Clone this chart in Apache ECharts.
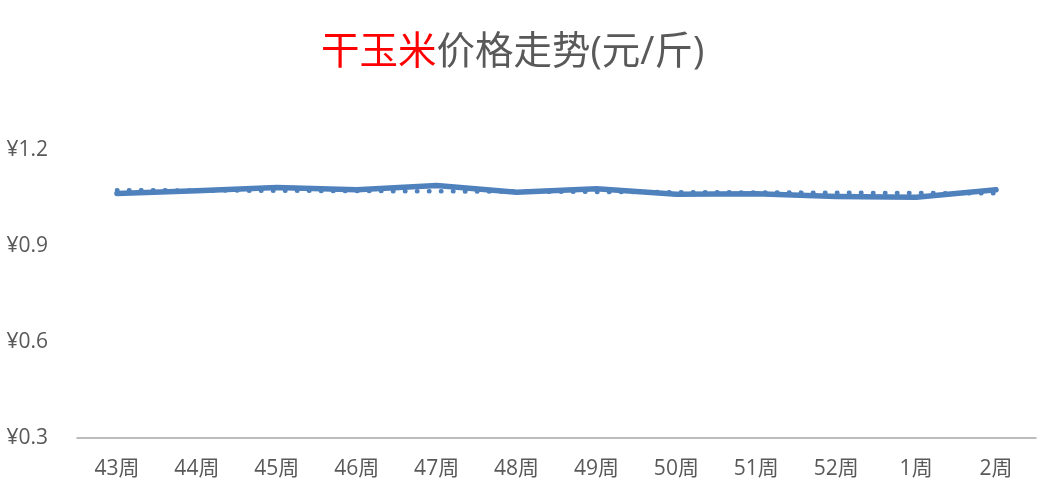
<!DOCTYPE html>
<html>
<head>
<meta charset="utf-8">
<script src="https://cdn.jsdelivr.net/npm/echarts@6/dist/echarts.min.js"></script>
<style>html,body{margin:0;padding:0;background:#fff}#c{width:1050px;height:500px}</style>
</head>
<body>
<div id="c"></div>
<script>
const categories = ['43周','44周','45周','46周','47周','48周','49周','50周','51周','52周','1周','2周'];
const prices = [1.064, 1.073, 1.083, 1.076, 1.089, 1.068, 1.079, 1.062, 1.063, 1.055, 1.052, 1.076];
const trend = [1.0745, 1.0736, 1.0727, 1.0718, 1.0709, 1.0700, 1.0691, 1.0682, 1.0673, 1.0664, 1.0655, 1.0646];
const yTicks = [0.3, 0.6, 0.9, 1.2];

const chart = echarts.init(document.getElementById('c'));
const font = '"Open Sans","Noto Sans CJK SC",sans-serif';
chart.setOption({
  animation: false,
  title: {
    text: '{r|干玉米}{g|价格走势(元/斤)}',
    left: 316,
    top: 29,
    textStyle: {
      rich: {
        r: {color: '#ff0000', fontSize: 38.5, fontWeight: 'normal', fontFamily: font},
        g: {color: '#595959', fontSize: 38.5, fontWeight: 'normal', fontFamily: font}
      }
    }
  },
  grid: {left: 77, right: 14, top: 150, bottom: 62},
  xAxis: {
    type: 'category',
    data: categories,
    boundaryGap: true,
    axisLine: {lineStyle: {color: '#a6a6a6', width: 1.5}},
    axisTick: {show: false},
    axisLabel: {color: '#595959', fontSize: 21, fontFamily: font, margin: 21}
  },
  yAxis: {
    type: 'value',
    min: yTicks[0],
    max: yTicks[yTicks.length - 1],
    interval: 0.3,
    axisLine: {show: false},
    axisTick: {show: false},
    splitLine: {show: false},
    axisLabel: {
      color: '#595959', fontSize: 21, fontFamily: font, margin: 29,
      formatter: v => '¥' + v.toFixed(1)
    }
  },
  series: [
    {
      type: 'line',
      data: trend,
      symbol: 'none',
      z: 1,
      lineStyle: {color: '#4f81bd', width: 4.5, type: [0.5, 11.5], cap: 'round'}
    },
    {
      type: 'line',
      data: prices,
      symbol: 'none',
      z: 2,
      lineStyle: {color: '#4f81bd', width: 5.5, cap: 'round', join: 'round'}
    }
  ]
});
</script>
</body>
</html>
